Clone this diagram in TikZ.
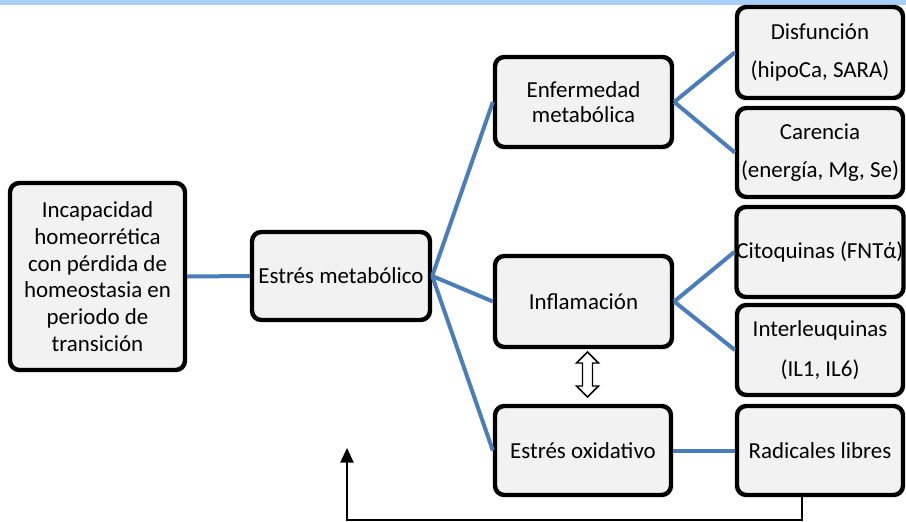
\documentclass[tikz,border=0pt]{standalone}
\usepackage{fontspec}
\setmainfont{Carlito}
\usetikzlibrary{arrows.meta,calc}
\definecolor{boxfill}{RGB}{242,242,242}
\definecolor{conn}{RGB}{74,126,187}
\definecolor{topband}{RGB}{170,206,250}
\tikzset{
  box/.style={draw=black, line width=3.3pt, rounded corners=7pt, fill=boxfill,
    inner sep=0pt, align=center, font=\fontsize{17.2}{20}\selectfont},
  link/.style={draw=conn, line width=3pt},
  fb/.style={draw=black, line width=1.1pt},
}
\begin{document}
\begin{tikzpicture}[x=0.75pt,y=-0.75pt]
\useasboundingbox (0,0) rectangle (906,521);
\fill[topband] (0,0) rectangle (906,5);

\node[box, minimum width=131.25pt, minimum height=140.25pt] (inc) at (97.5,276.5)
  {Incapacidad\\homeorrética\\con pérdida de\\homeostasia en\\periodo de\\transición};
\node[box, minimum width=133.5pt, minimum height=66pt] (em) at (341,276) {Estrés metabólico};
\node[box, minimum width=132.75pt, minimum height=67.5pt] (enf) at (583.5,102)
  {Enfermedad\\[-1pt]metabólica};
\node[box, minimum width=132.75pt, minimum height=68.25pt] (inf) at (583.5,301.5) {Inflamación};
\node[box, minimum width=132pt, minimum height=66.75pt] (ox) at (583,450.5) {Estrés oxidativo};

\node[box, minimum width=124.5pt, minimum height=68.25pt] (dis) at (820,52.5)
  {Disfunción\\[8pt](hipoCa, SARA)};
\node[box, minimum width=124.5pt, minimum height=66.75pt] (car) at (820,152.5)
  {Carencia\\[9pt](energía, Mg, Se)};
\node[box, minimum width=124.5pt, minimum height=67.5pt] (cit) at (820,252) {Citoquinas (FNTά)};
\node[box, minimum width=124.5pt, minimum height=67.5pt] (il) at (820,350)
  {Interleuquinas\\[10pt](IL1, IL6)};
\node[box, minimum width=124.5pt, minimum height=66.75pt] (rad) at (820,450.5) {Radicales libres};

\draw[link] (inc.east) -- (em.west);
\draw[link] (em.east) -- (enf.west);
\draw[link] (em.east) -- (inf.west);
\draw[link] (em.east) -- (ox.west);
\draw[link] (enf.east) -- (dis.west);
\draw[link] (enf.east) -- (car.west);
\draw[link] (inf.east) -- (cit.west);
\draw[link] (inf.east) -- (il.west);
\draw[link] (ox.east) -- (rad.west);

% open double arrow between Inflamación and Estrés oxidativo
\draw[black, line width=1.1pt, fill=white, line join=miter]
  (587.5,352) -- (598.5,363) -- (592.5,363) -- (592.5,386) -- (598.5,386) -- (587.5,397)
  -- (576.5,386) -- (582.5,386) -- (582.5,363) -- (576.5,363) -- cycle;

% feedback arrow
\coordinate (fbstart) at ($(rad.south)+(-18,0)$);
\coordinate (fbend) at (347,448);
\draw[fb, -{Triangle[length=11pt,width=10pt]}] (fbstart) -- ++(0,23) -| (fbend);
\end{tikzpicture}
\end{document}
